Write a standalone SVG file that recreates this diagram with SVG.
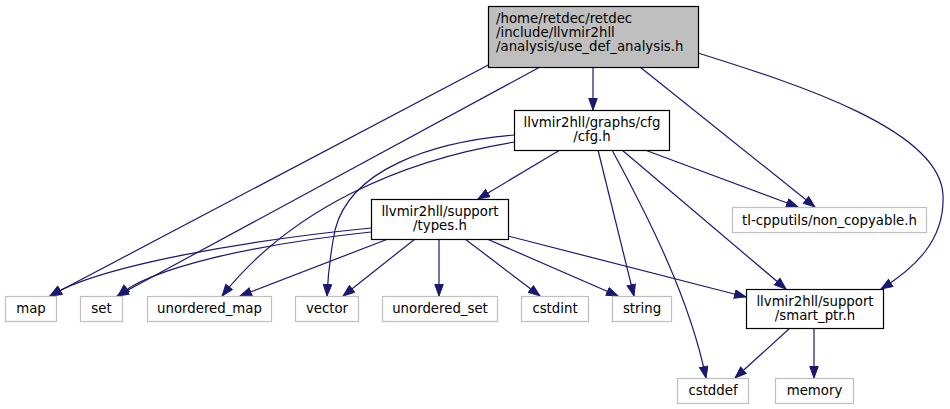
<svg xmlns="http://www.w3.org/2000/svg" width="950" height="409" viewBox="0 0 950 409">
<defs>
<marker id="ah" markerWidth="13" markerHeight="10" refX="12" refY="4.75" orient="auto" markerUnits="userSpaceOnUse">
<path d="M0.5,0.5 L12,4.75 L0.5,9 z" fill="#191970" stroke="#191970" stroke-width="1"/>
</marker>
<style>
.e{fill:none;stroke:#191970;stroke-width:1.2;marker-end:url(#ah)}
.n rect{fill:#fff;stroke:#000;stroke-width:1.2}
.g rect{fill:#fff;stroke:#bfbfbf;stroke-width:1.2}
text{font-family:"DejaVu Sans",sans-serif;font-size:13.3px;fill:#000}
.c{text-anchor:middle}
</style>
</defs>
<rect width="950" height="409" fill="#fff"/>
<g id="edges">
<path class="e" d="M494,62 L50,296"/>
<path class="e" d="M540,67 L117,296"/>
<path class="e" d="M593,67 L593,110"/>
<path class="e" d="M640,67 L815,207"/>
<path class="e" d="M698,53 C800,85 940,130 943,195 C945,240 915,268 881,289"/>
<path class="e" d="M560,150 L478,199"/>
<path class="e" d="M515,142 C400,160 290,210 222,296"/>
<path class="e" d="M515,135 C430,142 350,170 335,230 C330,255 328,275 327,296"/>
<path class="e" d="M645,150 L798,207"/>
<path class="e" d="M622,150 L786,289"/>
<path class="e" d="M598,150 L634,296"/>
<path class="e" d="M612,150 C650,220 690,300 706,378"/>
<path class="e" d="M371,228 C250,240 100,265 50,296"/>
<path class="e" d="M371,232 C250,245 150,268 118,296"/>
<path class="e" d="M388,239 L240,296"/>
<path class="e" d="M415,239 L343,296"/>
<path class="e" d="M439,239 L439,296"/>
<path class="e" d="M465,239 L540,296"/>
<path class="e" d="M487,239 L618,296"/>
<path class="e" d="M508,236 L746,297"/>
<path class="e" d="M790,328 L735,378"/>
<path class="e" d="M814,328 L814,378"/>
</g>
<g id="use_def_analysis" class="n"><rect x="488.5" y="6.5" width="210" height="61" style="fill:#bfbfbf"/>
<text x="496" y="23">/home/retdec/retdec</text><text x="496" y="37">/include/llvmir2hll</text><text x="496" y="51">/analysis/use_def_analysis.h</text></g>
<g id="cfg" class="n"><rect x="514.5" y="110.5" width="155" height="40"/>
<text class="c" x="592" y="127">llvmir2hll/graphs/cfg</text><text class="c" x="592" y="141">/cfg.h</text></g>
<g id="types" class="n"><rect x="371.5" y="199.5" width="137" height="40"/>
<text class="c" x="440" y="216">llvmir2hll/support</text><text class="c" x="440" y="230">/types.h</text></g>
<g id="smart_ptr" class="n"><rect x="746.5" y="289.5" width="137" height="39"/>
<text class="c" x="815" y="305.5">llvmir2hll/support</text><text class="c" x="815" y="319.5">/smart_ptr.h</text></g>
<g id="non_copyable" class="g"><rect x="732.5" y="207.5" width="194" height="25"/><text class="c" x="829.5" y="224.5">tl-cpputils/non_copyable.h</text></g>
<g id="map" class="g"><rect x="5.5" y="296.5" width="51" height="25"/><text class="c" x="31" y="313">map</text></g>
<g id="set" class="g"><rect x="80.5" y="296.5" width="42" height="25"/><text class="c" x="101.5" y="313">set</text></g>
<g id="unordered_map" class="g"><rect x="147.5" y="296.5" width="124" height="25"/><text class="c" x="209.5" y="313">unordered_map</text></g>
<g id="vector" class="g"><rect x="295.5" y="296.5" width="63" height="25"/><text class="c" x="327" y="313">vector</text></g>
<g id="unordered_set" class="g"><rect x="382.5" y="296.5" width="115" height="25"/><text class="c" x="440" y="313">unordered_set</text></g>
<g id="cstdint" class="g"><rect x="521.5" y="296.5" width="67" height="25"/><text class="c" x="555" y="313">cstdint</text></g>
<g id="string" class="g"><rect x="612.5" y="296.5" width="59" height="25"/><text class="c" x="642" y="313">string</text></g>
<g id="cstddef" class="g"><rect x="677.5" y="378.5" width="71" height="25"/><text class="c" x="713" y="395">cstddef</text></g>
<g id="memory" class="g"><rect x="775.5" y="378.5" width="78" height="25"/><text class="c" x="814.5" y="395">memory</text></g>
</svg>
